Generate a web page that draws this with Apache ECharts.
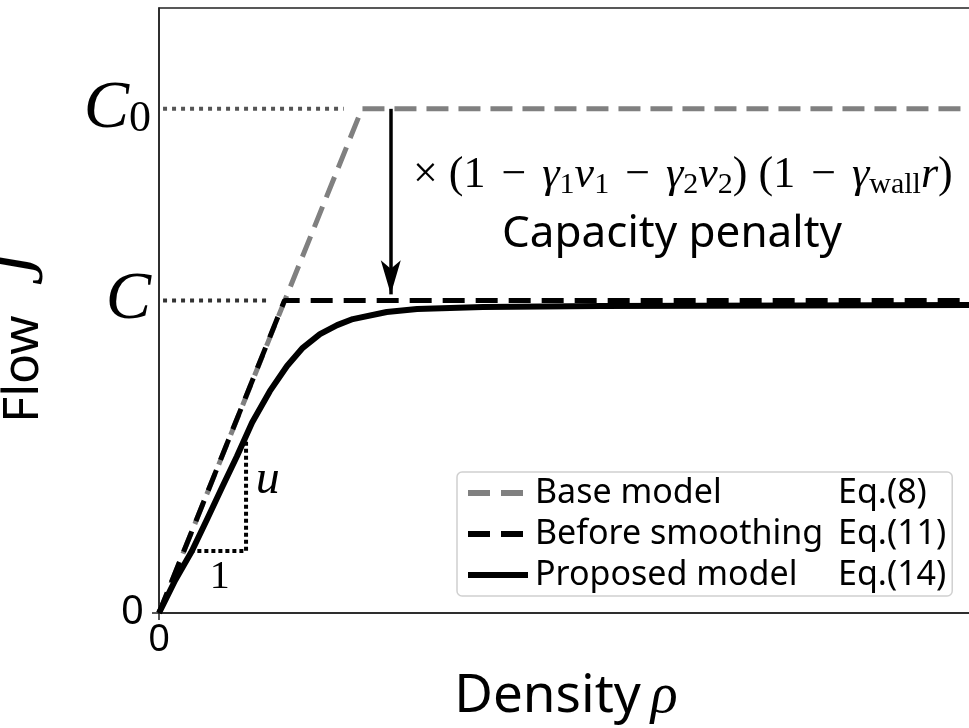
<!DOCTYPE html>
<html>
<head>
<meta charset="utf-8">
<script src="https://cdn.jsdelivr.net/npm/echarts@6/dist/echarts.min.js"></script>
<style>
  html, body { margin: 0; padding: 0; background: #fff; }
  #chart { width: 969px; height: 728px; }
</style>
</head>
<body>
<div id="chart"></div>
<script>
// values (density rho, flow J), C0 = 1
const seriesNames = ['Base model', 'Before smoothing', 'Proposed model'];
const eqLabels = ['Eq.(8)', 'Eq.(11)', 'Eq.(14)'];

const baseRho = [0, 0.401, 1.64];
const baseJ = [0, 1, 1];

const beforeRho = [0, 0.248, 1.64];
const beforeJ = [0, 0.62, 0.62];

const propRho = [0, 0.032, 0.065, 0.095, 0.124, 0.154, 0.184, 0.219, 0.253, 0.284, 0.318,
                 0.352, 0.383, 0.450, 0.510, 0.640, 0.871, 1.266, 1.64];
const propJ = [0, 0.065, 0.123, 0.186, 0.248, 0.311, 0.378, 0.440, 0.490, 0.526, 0.553,
               0.571, 0.583, 0.597, 0.603, 0.607, 0.609, 0.610, 0.611];

const C0 = 1;
const C = 0.62;
const yTicks = [0, C, C0];

// slope triangle corners (rho, J)
const triRho = [0.062, 0.172, 0.172];
const triJ = [0.123, 0.123, 0.343];

const zip = (xs, ys) => xs.map((x, i) => [x, ys[i]]);

const chart = echarts.init(document.getElementById('chart'));

const serif = 'Liberation Serif';
const sans = 'Noto Sans';

// dotted helper line drawn as its own line series
const guide = (points, color, gap) => ({
  type: 'line', data: points, z: 1, silent: true,
  showSymbol: false, symbol: 'none',
  lineStyle: { color: color, width: 4, type: [4, gap], cap: 'butt' }
});

const options = {
  animation: false,
  grid: {
    left: 159, right: -20, top: 8, bottom: 115,
    outerBoundsMode: 'none', containLabel: false,
    show: true, borderColor: '#222', borderWidth: 1.5
  },
  xAxis: {
    type: 'value', min: 0, max: 1.64,
    splitLine: { show: false },
    axisLine: { lineStyle: { color: '#222', width: 1.5 } },
    axisTick: { customValues: [0], length: 7, lineStyle: { color: '#222', width: 1.5 } },
    axisLabel: { customValues: [0], margin: 8, fontFamily: sans, fontSize: 38, color: '#000' },
    name: '{t|Density}{r|ρ}',
    nameLocation: 'middle',
    nameGap: 56,
    nameTextStyle: {
      rich: {
        t: { fontFamily: sans, fontSize: 53, color: '#000' },
        r: { fontFamily: serif, fontStyle: 'italic', fontSize: 56, color: '#000', padding: [0, 16, 0, 10] }
      }
    }
  },
  yAxis: {
    type: 'value', min: 0, max: 1.2,
    splitLine: { show: false },
    axisLine: { lineStyle: { color: '#222', width: 1.5 } },
    axisTick: { customValues: [0], length: 7, lineStyle: { color: '#222', width: 1.5 } },
    axisLabel: {
      customValues: yTicks,
      margin: 8,
      formatter: v => v === 0 ? '{z|0}' : (v === C ? '{c|C}' : '{c|C}{s|0}'),
      rich: {
        z: { fontFamily: sans, fontSize: 40, color: '#000', padding: [0, 7, 0, 0] },
        c: { fontFamily: serif, fontStyle: 'italic', fontSize: 68, color: '#000', lineHeight: 66 },
        s: { fontFamily: serif, fontSize: 44, color: '#000', lineHeight: 40, verticalAlign: 'bottom' }
      }
    },
    name: '{t|Flow}{j|J}',
    nameLocation: 'middle',
    nameGap: 100,
    nameTextStyle: {
      rich: {
        t: { fontFamily: sans, fontSize: 50, color: '#000' },
        j: { fontFamily: serif, fontStyle: 'italic', fontSize: 70, color: '#000', padding: [0, 56, 0, 30] }
      }
    }
  },
  legend: {
    data: [
      { name: seriesNames[0], lineStyle: { color: '#808080', width: 6, type: [22, 11] } },
      { name: seriesNames[1], lineStyle: { color: '#000', width: 6, type: [22, 11] } },
      { name: seriesNames[2], lineStyle: { color: '#000', width: 6, type: 'solid' } }
    ],
    orient: 'vertical',
    left: 457, top: 472,
    padding: [4, 6, 4, 8],
    itemWidth: 60, itemHeight: 14, itemGap: 7,
    itemStyle: { opacity: 0 },
    backgroundColor: '#fff',
    borderColor: '#d0d0d0', borderWidth: 1.5, borderRadius: 5,
    formatter: name => '{a|' + name + '}{b|' + eqLabels[seriesNames.indexOf(name)] + '}',
    textStyle: {
      color: '#000',
      rich: {
        a: { fontFamily: sans, fontSize: 34, width: 303, lineHeight: 40, padding: [0, 0, 0, 2] },
        b: { fontFamily: sans, fontSize: 34, lineHeight: 40 }
      }
    }
  },
  graphic: [
    {
      type: 'text', x: 413, y: 150, z: 10,
      style: {
        text: '{o|×}{o| (1}{m|−}{g|γ}{s|1}{g|ν}{s|1}{m|−}{g|γ}{s|2}{g|ν}{s|2}{o|) (1}{m|−}{g|γ}{s|wall}{g|r}{o|)}',
        rich: {
          o: { fontFamily: serif, fontSize: 44, lineHeight: 50, fill: '#000' },
          m: { fontFamily: serif, fontSize: 44, lineHeight: 50, fill: '#000', padding: [0, 16, 0, 16] },
          g: { fontFamily: serif, fontStyle: 'italic', fontSize: 44, lineHeight: 50, fill: '#000' },
          s: { fontFamily: serif, fontSize: 30, lineHeight: 28, verticalAlign: 'bottom', fill: '#000' }
        }
      }
    },
    {
      type: 'text', x: 672, y: 212, z: 10,
      style: { text: 'Capacity penalty', fontFamily: sans, fontSize: 44, fill: '#000', align: 'center' }
    }
  ],
  series: [
    {
      name: seriesNames[0], type: 'line', data: zip(baseRho, baseJ),
      showSymbol: false, symbol: 'none', z: 2,
      lineStyle: { color: '#808080', width: 5, type: [22, 10], cap: 'butt' },
      itemStyle: { color: '#808080' }
    },
    {
      name: seriesNames[1], type: 'line', data: zip(beforeRho, beforeJ),
      showSymbol: false, symbol: 'none', z: 3,
      lineStyle: { color: '#000', width: 5, type: [22, 11], cap: 'butt' },
      itemStyle: { color: '#000' }
    },
    {
      name: seriesNames[2], type: 'line', data: zip(propRho, propJ),
      showSymbol: false, symbol: 'none', z: 4,
      lineStyle: { color: '#000', width: 6, join: 'round' },
      itemStyle: { color: '#000' }
    },
    guide([[0.008, C0], [0.365, C0]], '#555', 5),
    guide([[0.008, C], [0.215, C]], '#333', 5),
    guide(zip(triRho, triJ), '#000', 3),
    {
      // capacity penalty arrow
      type: 'line', data: [], silent: true,
      markLine: {
        silent: true, animation: false,
        symbol: ['none', 'arrow'], symbolSize: [15, 34],
        label: { show: false },
        lineStyle: { color: '#000', width: 3.5, type: 'solid' },
        data: [[{ coord: [0.458, C0] }, { coord: [0.458, 0.632] }]]
      }
    },
    {
      type: 'line', data: [], silent: true,
      markPoint: {
        silent: true, symbol: 'circle', symbolSize: 1, animation: false,
        itemStyle: { color: 'rgba(0,0,0,0)' },
        label: { show: true, position: 'inside', color: '#000', fontFamily: serif },
        data: [
          { coord: [0.12, 0.07], label: { formatter: '1', fontSize: 40 } },
          { coord: [0.215, 0.264], label: { formatter: 'u', fontStyle: 'italic', fontSize: 48 } }
        ]
      }
    }
  ]
};

chart.setOption(options);
</script>
</body>
</html>
